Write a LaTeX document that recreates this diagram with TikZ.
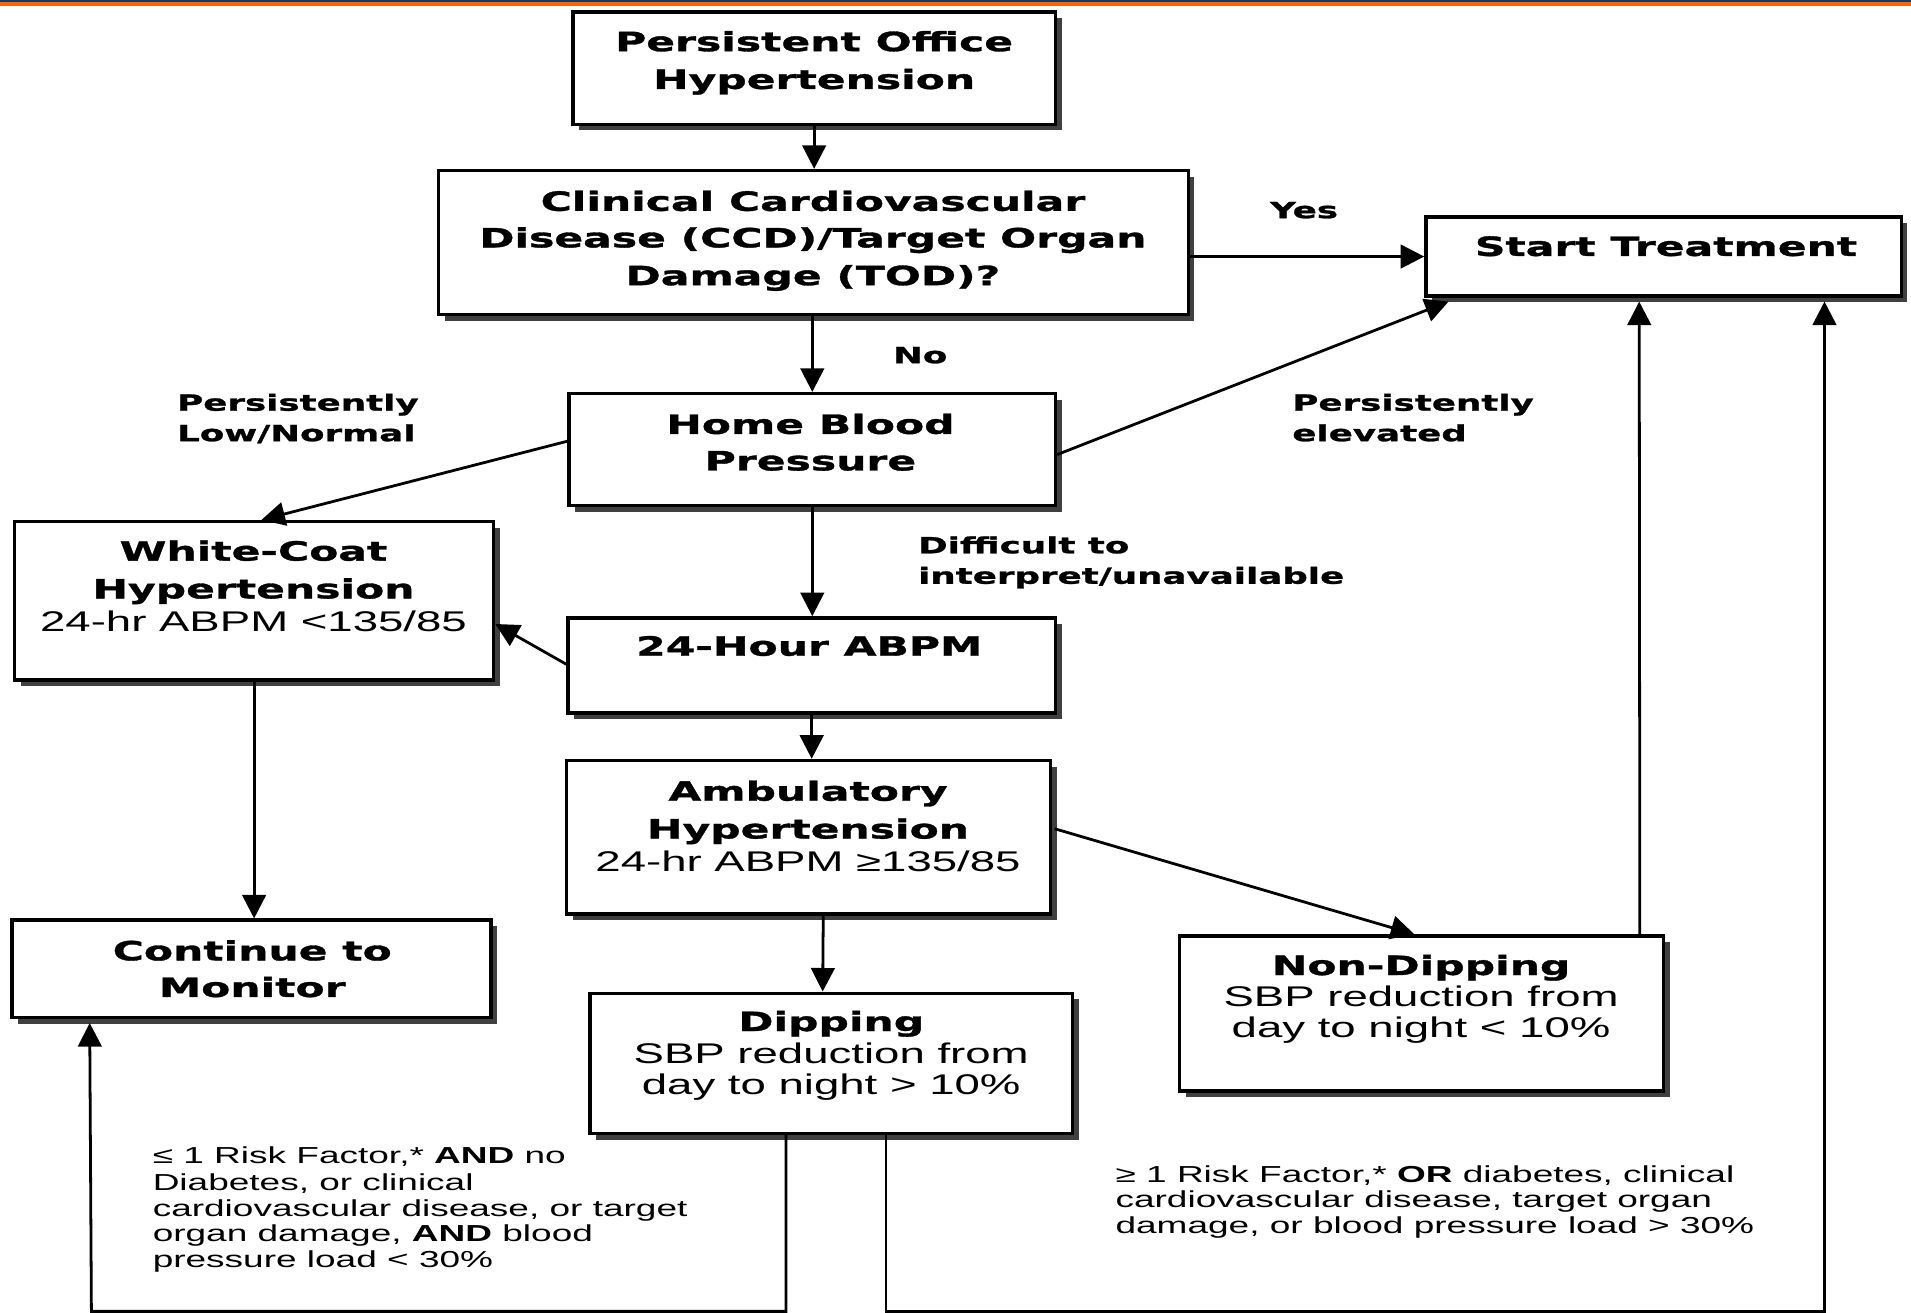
\documentclass[tikz,border=0pt]{standalone}
\usepackage{fontspec}
\usetikzlibrary{arrows.meta,calc}
\newfontfamily\dvbfam{DejaVu Sans}[FakeStretch=1.6,FakeBold=1.2]
\newfontfamily\lbsfam{Liberation Sans}[FakeStretch=1.6]
\newcommand\fntB{\dvbfam\bfseries\fontsize{12.4}{15}\selectfont}
\newcommand\fntR{\lbsfam\fontsize{13.3}{15}\selectfont}
\newcommand\fntS{\dvbfam\bfseries\fontsize{10.4}{12}\selectfont}
\newcommand\fntC{\lbsfam\fontsize{10.8}{12}\selectfont}
\definecolor{topblue}{HTML}{143A6B}
\definecolor{toporange}{HTML}{FF6600}
\tikzset{
  shd/.style={fill=black!75},
  boxst/.style={draw=black, line width=1.6pt, fill=white, inner sep=0pt, rectangle},
  bt/.style={inner sep=0pt, anchor=base, font=\fntB},
  rt/.style={inner sep=0pt, anchor=base, font=\fntR},
  lt/.style={inner sep=0pt, anchor=base west, font=\fntS},
  ct/.style={inner sep=0pt, anchor=base west, font=\fntC},
  arr/.style={line width=1.3pt, -{Triangle[length=11pt,width=11pt]}},
}
\newcommand\mybox[5]{%
  \fill[shd] ({#2+5},{#3+5}) rectangle ({#4+5},{#5+5});
  \node[boxst, minimum width={(#4-#2)*0.02cm}, minimum height={(#5-#3)*0.02cm}] (#1) at ({(#2+#4)/2},{(#3+#5)/2}) {};
}
\begin{document}
\begin{tikzpicture}[x=0.02cm, y=-0.02cm]
\useasboundingbox (0,0) rectangle (1568,1077);
\fill[white] (0,0) rectangle (1568,1077);
\fill[topblue] (0,0) rectangle (1568,1.7);
\fill[toporange] (0,1.7) rectangle (1568,5);

% boxes
\mybox{pohyp}{470}{10}{866}{102}
\mybox{ccd}{360}{140}{975}{258}
\mybox{start}{1170}{178}{1560}{243}
\mybox{hbp}{467}{323}{866}{415}
\mybox{wc}{12}{428}{405}{558}
\mybox{abpm}{466}{507}{866}{585}
\mybox{amb}{465}{624}{862}{750}
\mybox{nondip}{968}{768}{1365}{895}
\mybox{dip}{484}{815}{880}{930}
\mybox{cont}{10}{755}{403}{835}

% box texts
\node[bt] (pohyp1) at (668,42) {Persistent Office};
\node[bt] (pohyp2) at (668,73) {Hypertension};
\node[bt] (ccd1) at (667,173) {Clinical Cardiovascular};
\node[bt] (ccd2) at (667,203) {Disease (CCD)/Target Organ};
\node[bt] (ccd3) at (667,234) {Damage (TOD)?};
\node[bt] (start1) at (1367,210) {Start Treatment};
\node[bt] (hbp1) at (665,356) {Home Blood};
\node[bt] (hbp2) at (665,386) {Pressure};
\node[bt] (wc1) at (208,460) {White-Coat};
\node[bt] (wc2) at (208,491) {Hypertension};
\node[rt] (wc3) at (208,518) {24-hr ABPM <135/85};
\node[bt] (abpm1) at (664,538) {24-Hour ABPM};
\node[bt] (amb1) at (663,657) {Ambulatory};
\node[bt] (amb2) at (663,688) {Hypertension};
\node[rt] (amb3) at (663,715) {24-hr ABPM ≥135/85};
\node[bt] (nondip1) at (1166,800) {Non-Dipping};
\node[rt] (nondip2) at (1166,826) {SBP reduction from};
\node[rt] (nondip3) at (1166,851) {day to night < 10\%};
\node[bt] (dip1) at (682,846) {Dipping};
\node[rt] (dip2) at (682,873) {SBP reduction from};
\node[rt] (dip3) at (682,898) {day to night > 10\%};
\node[bt] (cont1) at (207,788) {Continue to};
\node[bt] (cont2) at (207,818) {Monitor};

% labels
\node[lt, anchor=base] (yes) at (1070,179) {Yes};
\node[lt, anchor=base] (no) at (755,298) {No};
\node[lt] (pl1) at (145,337) {Persistently};
\node[lt] (pl2) at (145,362) {Low/Normal};
\node[lt] (pe1) at (1060,337) {Persistently};
\node[lt] (pe2) at (1060,362) {elevated};
\node[lt] (di1) at (753,454) {Difficult to};
\node[lt] (di2) at (753,479) {interpret/unavailable};

\node[ct] (lc1) at (125,955) {≤ 1 Risk Factor,* {\bfseries AND} no};
\node[ct] (lc2) at (125,977) {Diabetes, or clinical};
\node[ct] (lc3) at (125,998) {cardiovascular disease, or target};
\node[ct] (lc4) at (125,1019) {organ damage, {\bfseries AND} blood};
\node[ct] (lc5) at (125,1040) {pressure load < 30\%};
\node[ct] (rc1) at (915,970) {≥ 1 Risk Factor,* {\bfseries OR} diabetes, clinical};
\node[ct] (rc2) at (915,991) {cardiovascular disease, target organ};
\node[ct] (rc3) at (915,1012) {damage, or blood pressure load > 30\%};

% connectors
\draw[arr] (pohyp.south) -- (pohyp.south |- ccd.north);
\draw[arr] (ccd.east |- start.west) -- (start.west);
\draw[arr] (ccd.south -| hbp.north) -- (hbp.north);
\draw[arr] ($(hbp.east)+(0,4)$) -- ($(start.south west)+(20,3)$);
\draw[arr] ($(hbp.west)+(0,-7)$) -- ($(wc.north)+(6,0)$);
\draw[arr] (hbp.south) -- (hbp.south |- abpm.north);
\draw[arr] ($(abpm.west)+(0,-1)$) -- ($(wc.east)+(0,19)$);
\draw[arr] (abpm.south) -- (abpm.south |- amb.north);
\draw[arr] ($(amb.east)+(2,-7)$) -- ($(nondip.north)+(-6,0)$);
\draw[arr] ($(amb.south)+(12,0)$) -- ($(dip.north)+(-7,0)$);
\draw[arr] (wc.south) -- (wc.south |- cont.north);
\draw[arr] ($(nondip.north)+(179,0)$) -- ($(start.south)+(-20,3)$);
\coordinate (bl) at (645,1076);
\coordinate (br) at (727,1076);
\draw[arr] ($(dip.south)+(-37,0)$) -- (bl) -- (75,1076) -- ($(cont.south west)+(65,3)$);
\draw[arr] ($(dip.south)+(45,0)$) -- (br) -- (1497,1076) -- ($(start.south)+(132,3)$);
\end{tikzpicture}
\end{document}
